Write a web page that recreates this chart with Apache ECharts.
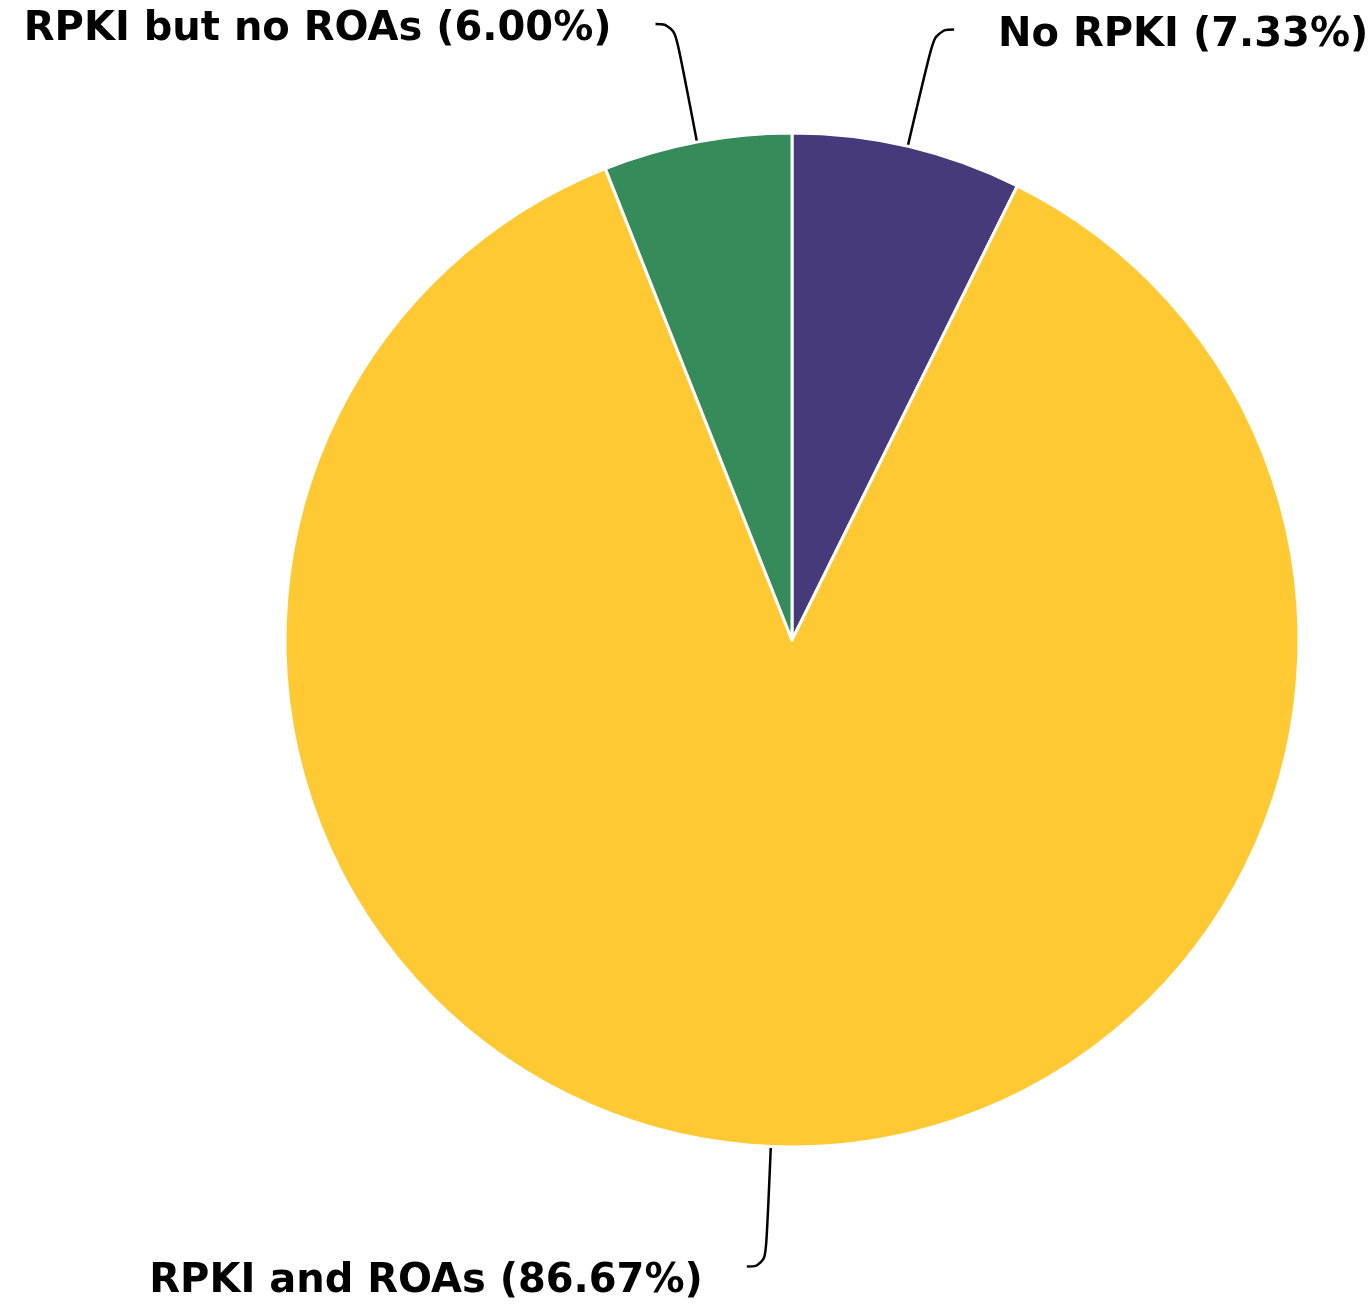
<!DOCTYPE html>
<html>
<head>
<meta charset="utf-8">
<style>
  html, body { margin: 0; padding: 0; background: #ffffff; }
  #chart { width: 1368px; height: 1306px; }
</style>
<script src="https://cdn.jsdelivr.net/npm/echarts@6/dist/echarts.min.js"></script>
</head>
<body>
<div id="chart"></div>
<script>
// RPKI deployment status shares (percent)
const categories = ['No RPKI', 'RPKI and ROAs', 'RPKI but no ROAs'];
const shares = [7.33, 86.67, 6.00];
const colors = ['#463a7a', '#ffc933', '#358b5a'];

const chart = echarts.init(document.getElementById('chart'), null, { renderer: 'canvas' });

chart.setOption({
  backgroundColor: '#ffffff',
  animation: false,
  series: [{
    type: 'pie',
    center: [792, 640],
    radius: 507,
    startAngle: 90,
    clockwise: true,
    avoidLabelOverlap: false,
    data: categories.map((name, i) => ({
      name: name,
      value: shares[i],
      itemStyle: { color: colors[i] }
    })),
    itemStyle: { borderColor: '#ffffff', borderWidth: 3 },
    label: {
      show: true,
      position: 'outside',
      formatter: p => p.name + ' (' + p.percent.toFixed(2) + '%)',
      fontFamily: '"DejaVu Sans", sans-serif',
      fontWeight: 'bold',
      fontSize: 40,
      color: '#000000',
      distanceToLabelLine: 44
    },
    // nudge the text down a little below the end of its leader line
    labelLayout: p => {
      const below = p.labelLinePoints && p.labelLinePoints[2][1] > 640;
      return { dy: below ? 15 : 6 };
    },
    labelLine: {
      show: true,
      length: 120,
      length2: 19,
      smooth: 0.5,
      lineStyle: { color: '#000000', width: 2.5 }
    },
    emphasis: { disabled: true }
  }]
});
</script>
</body>
</html>
